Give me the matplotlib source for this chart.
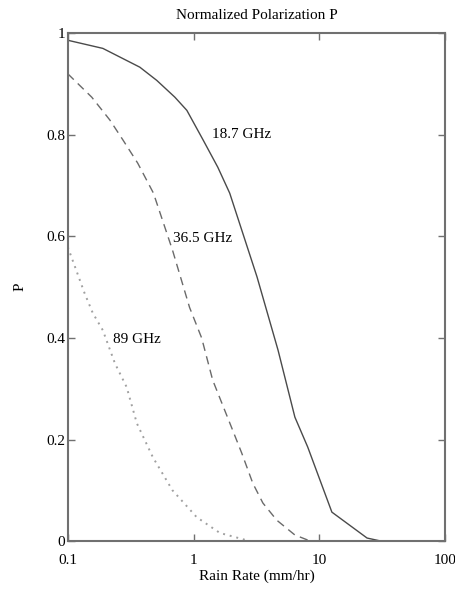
import matplotlib
matplotlib.use('Agg')
import matplotlib.pyplot as plt

# rain rate (mm/hr) and normalized polarization
rate_187 = [0.1, 0.19, 0.374, 0.51, 0.71, 0.885, 1.19, 1.56, 1.94, 3.2, 4.7, 6.4, 8.1, 12.6, 24, 31]
pol_187 = [0.986, 0.97, 0.933, 0.907, 0.874, 0.848, 0.79, 0.736, 0.685, 0.52, 0.376, 0.244, 0.185, 0.057, 0.006, 0.0]

rate_365 = [0.1, 0.155, 0.216, 0.274, 0.36, 0.425, 0.48, 0.68, 0.93, 1.16, 1.42,
            2.05, 2.42, 2.96, 3.56, 4.6, 6.4, 8.5]
pol_365 = [0.92, 0.874, 0.829, 0.79, 0.744, 0.71, 0.685, 0.573, 0.46, 0.40, 0.317,
           0.218, 0.173, 0.114, 0.075, 0.041, 0.012, 0.0]

rate_89 = [0.1, 0.136, 0.158, 0.19, 0.237, 0.294, 0.354, 0.475, 0.68, 1.06, 1.62, 2.8]
pol_89 = [0.579, 0.488, 0.449, 0.415, 0.35, 0.303, 0.232, 0.165, 0.10, 0.047, 0.016, 0.0]

x_ticks = [0.1, 1, 10, 100]
x_ticklabels = ['0.1', '1', '10', '100']
y_ticks = [0, 0.2, 0.4, 0.6, 0.8, 1]
y_ticklabels = ['0', '0.2', '0.4', '0.6', '0.8', '1']

plt.rcParams['font.family'] = ['Liberation Serif', 'DejaVu Serif']

fig = plt.figure(figsize=(4.55, 5.92), dpi=100)
ax = fig.add_axes([0.149, 0.086, 0.829, 0.858])

ax.plot(rate_187, pol_187, color='#4a4a4a', lw=1.0, ls='-')
ax.plot(rate_365, pol_365, color='#6a6a6a', lw=1.0, ls=(0, (6, 4)))
ax.plot(rate_89, pol_89, color='#a0a0a0', lw=1.4, ls=(0, (1, 2.5)))

ax.set_xscale('log')
ax.set_xlim(0.1, 100)
ax.set_ylim(0, 1)
ax.set_xticks(x_ticks)
ax.set_xticklabels(x_ticklabels)
ax.set_yticks(y_ticks)
ax.set_yticklabels(y_ticklabels)
ax.minorticks_off()
ax.tick_params(direction='in', top=True, right=True, length=5, width=1,
               color='#707070', labelsize=11, pad=2)
ax.tick_params(axis='x', pad=9)

for s in ax.spines.values():
    s.set_color('#707070')
    s.set_linewidth(1.5)

ax.text(1.40, 0.8, '18.7 GHz', fontsize=11, va='center', ha='left')
ax.text(0.685, 0.596, '36.5 GHz', fontsize=11, va='center', ha='left')
ax.text(0.228, 0.396, '89 GHz', fontsize=11, va='center', ha='left')

ax.set_title('Normalized Polarization P', fontsize=11, pad=10)
ax.set_xlabel('Rain Rate (mm/hr)', fontsize=11, labelpad=2)
ax.set_ylabel('P', fontsize=11, labelpad=14)

fig.savefig('out.png', dpi=100)
